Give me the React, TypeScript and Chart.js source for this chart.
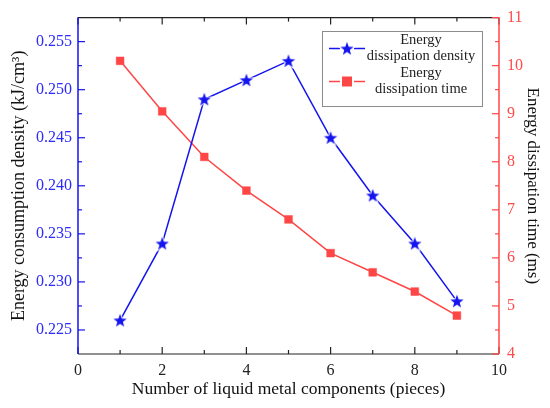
import { useEffect, useRef } from "react"
import { Chart, registerables } from "chart.js"

Chart.register(...registerables)

// values
const pieces = [1, 2, 3, 4, 5, 6, 7, 8, 9]
const density = [0.226, 0.234, 0.249, 0.251, 0.253, 0.245, 0.239, 0.234, 0.228]
const dissipationTime = [10.1, 9.05, 8.1, 7.4, 6.8, 6.1, 5.7, 5.3, 4.8]

const xTicks = [0, 2, 4, 6, 8, 10]
const densityTicks = [0.225, 0.23, 0.235, 0.24, 0.245, 0.25, 0.255]
const timeTicks = [4, 5, 6, 7, 8, 9, 10, 11]

const legendLabels = [
  ["Energy", "dissipation density"],
  ["Energy", "dissipation time"],
]

const BLUE = "#1414f0"
const RED = "#ff4646"
const SERIF = "Liberation Serif"

function makeStar(color: string) {
  const c = document.createElement("canvas")
  c.width = 18
  c.height = 18
  const ctx = c.getContext("2d")!
  ctx.beginPath()
  for (let i = 0; i < 10; i++) {
    const r = i % 2 === 0 ? 7 : 2.9
    const a = -Math.PI / 2 + (i * Math.PI) / 5
    const px = 9 + r * Math.cos(a)
    const py = 9.6 + r * Math.sin(a)
    if (i === 0) ctx.moveTo(px, py)
    else ctx.lineTo(px, py)
  }
  ctx.closePath()
  ctx.lineWidth = 2
  ctx.strokeStyle = "white"
  ctx.stroke()
  ctx.fillStyle = color
  ctx.fill()
  return c
}

const line = (ctx: CanvasRenderingContext2D, x1: number, y1: number, x2: number, y2: number) => {
  ctx.beginPath()
  ctx.moveTo(x1, y1)
  ctx.lineTo(x2, y2)
  ctx.stroke()
}

// axis frame with inward major/minor ticks
const framePlugin = {
  id: "frame",
  afterDatasetsDraw(chart: any) {
    const { ctx, chartArea: a, scales } = chart
    const x = scales.x
    const yl = scales.y
    const yr = scales.y1
    ctx.save()
    ctx.lineWidth = 1.2

    ctx.strokeStyle = "#222"
    line(ctx, a.left, a.top, a.right, a.top)
    line(ctx, a.left, a.bottom, a.right, a.bottom)
    xTicks.forEach((v, i) => {
      const px = x.getPixelForValue(v)
      line(ctx, px, a.bottom, px, a.bottom - 7)
      line(ctx, px, a.top, px, a.top + 7)
      if (i < xTicks.length - 1) {
        const mx = x.getPixelForValue((v + xTicks[i + 1]) / 2)
        line(ctx, mx, a.bottom, mx, a.bottom - 4)
        line(ctx, mx, a.top, mx, a.top + 4)
      }
    })

    ctx.strokeStyle = BLUE
    ctx.lineWidth = 1.5
    line(ctx, a.left, a.top, a.left, a.bottom)
    ctx.lineWidth = 1.2
    densityTicks.forEach((v, i) => {
      const py = yl.getPixelForValue(v)
      line(ctx, a.left, py, a.left + 7, py)
      if (i < densityTicks.length - 1) {
        const my = yl.getPixelForValue((v + densityTicks[i + 1]) / 2)
        line(ctx, a.left, my, a.left + 4, my)
      }
    })

    ctx.strokeStyle = RED
    ctx.lineWidth = 1.5
    line(ctx, a.right, a.top, a.right, a.bottom)
    ctx.lineWidth = 1.2
    timeTicks.forEach((v, i) => {
      const py = yr.getPixelForValue(v)
      line(ctx, a.right, py, a.right - 7, py)
      if (i < timeTicks.length - 1) {
        const my = yr.getPixelForValue((v + timeTicks[i + 1]) / 2)
        line(ctx, a.right, my, a.right - 4, my)
      }
    })
    ctx.restore()
  },
}

const legendPlugin = {
  id: "boxLegend",
  afterDraw(chart: any) {
    const { ctx } = chart
    const bx = 322.5
    const by = 31.5
    const bw = 160
    const bh = 75
    ctx.save()
    ctx.fillStyle = "white"
    ctx.fillRect(bx, by, bw, bh)
    ctx.strokeStyle = "#8c8c8c"
    ctx.lineWidth = 1
    ctx.strokeRect(bx, by, bw, bh)

    ctx.font = `14.5px ${SERIF}`
    ctx.textAlign = "center"
    ctx.textBaseline = "middle"
    legendLabels.forEach((lines, i) => {
      const ds = chart.data.datasets[i]
      const cy = by + 17 + i * 33
      const cx = 347
      ctx.strokeStyle = ds.borderColor
      ctx.lineWidth = 1.5
      line(ctx, cx - 18, cy, cx - 7, cy)
      line(ctx, cx + 7, cy, cx + 18, cy)
      if (ds.pointStyle instanceof HTMLCanvasElement) {
        const img = ds.pointStyle
        ctx.drawImage(img, cx - img.width / 2, cy - img.height / 2)
      } else {
        ctx.fillStyle = ds.pointBackgroundColor
        ctx.fillRect(cx - 5, cy - 5, 10, 10)
      }
      ctx.fillStyle = "#222"
      lines.forEach((t, j) => {
        ctx.fillText(t, 421, cy - 8 + j * 16)
      })
    })
    ctx.restore()
  },
}

const App = () => {
  const chartRef = useRef<HTMLCanvasElement>(null)
  const chartInstance = useRef<Chart | null>(null)

  useEffect(() => {
    if (!chartRef.current) return
    if (chartInstance.current) chartInstance.current.destroy()
    const ctx = chartRef.current.getContext("2d")
    if (!ctx) return

    const star = makeStar(BLUE)

    chartInstance.current = new Chart(ctx, {
      type: "line",
      data: {
        datasets: [
          {
            label: "Energy dissipation density",
            data: pieces.map((p, i) => ({ x: p, y: density[i] })),
            borderColor: BLUE,
            borderWidth: 1.5,
            pointStyle: star as any,
            pointBackgroundColor: BLUE,
            yAxisID: "y",
          },
          {
            label: "Energy dissipation time",
            data: pieces.map((p, i) => ({ x: p, y: dissipationTime[i] })),
            borderColor: RED,
            borderWidth: 1.5,
            pointStyle: "rect",
            pointRadius: 5.5,
            pointBackgroundColor: RED,
            pointBorderColor: RED,
            pointBorderWidth: 0.5,
            yAxisID: "y1",
          },
        ],
      },
      options: {
        responsive: false,
        animation: false,
        layout: { padding: { top: 15, left: 0, right: 0, bottom: 0 } },
        plugins: {
          legend: { display: false },
          tooltip: { enabled: false },
        },
        scales: {
          x: {
            type: "linear",
            min: 0,
            max: 10,
            afterBuildTicks: (s: any) => {
              s.ticks = xTicks.map((v) => ({ value: v }))
            },
            afterFit: (s: any) => {
              s.height = 54
            },
            grid: { display: false, drawTicks: false },
            border: { display: false },
            ticks: { font: { family: SERIF, size: 16 }, color: "#222", padding: 7 },
            title: {
              display: true,
              text: "Number of liquid metal components (pieces)",
              font: { family: SERIF, size: 17.5 },
              color: "#111",
              padding: { top: 0, bottom: 8.5 },
            },
          },
          y: {
            type: "linear",
            position: "left",
            min: 0.2225,
            max: 0.2575,
            afterBuildTicks: (s: any) => {
              s.ticks = densityTicks.map((v) => ({ value: v }))
            },
            afterFit: (s: any) => {
              s.width = 78
            },
            grid: { display: false, drawTicks: false },
            border: { display: false },
            ticks: {
              font: { family: SERIF, size: 16 },
              color: "#2a2aff",
              padding: 6,
              callback: (v: any) => Number(v).toFixed(3),
            },
            title: {
              display: true,
              text: "Energy consumption density (kJ/cm³)",
              font: { family: SERIF, size: 18 },
              color: "#111",
              padding: { top: 8, bottom: 0 },
            },
          },
          y1: {
            type: "linear",
            position: "right",
            min: 4,
            max: 11,
            afterBuildTicks: (s: any) => {
              s.ticks = timeTicks.map((v) => ({ value: v }))
            },
            afterFit: (s: any) => {
              s.width = 51
            },
            grid: { display: false, drawTicks: false },
            border: { display: false },
            ticks: { font: { family: SERIF, size: 16 }, color: "#ff4a4a", padding: 8 },
            title: {
              display: true,
              text: "Energy dissipation time (ms)",
              font: { family: SERIF, size: 17 },
              color: "#111",
              padding: { top: 7, bottom: 0 },
            },
          },
        },
      },
      plugins: [framePlugin, legendPlugin],
    })

    return () => {
      if (chartInstance.current) {
        chartInstance.current.destroy()
        chartInstance.current = null
      }
    }
  }, [])

  return (
    <div style={{ position: "absolute", left: 0, top: 0, width: 550, height: 408, background: "white" }}>
      <canvas ref={chartRef} width={550} height={408} />
    </div>
  )
}

export default App
